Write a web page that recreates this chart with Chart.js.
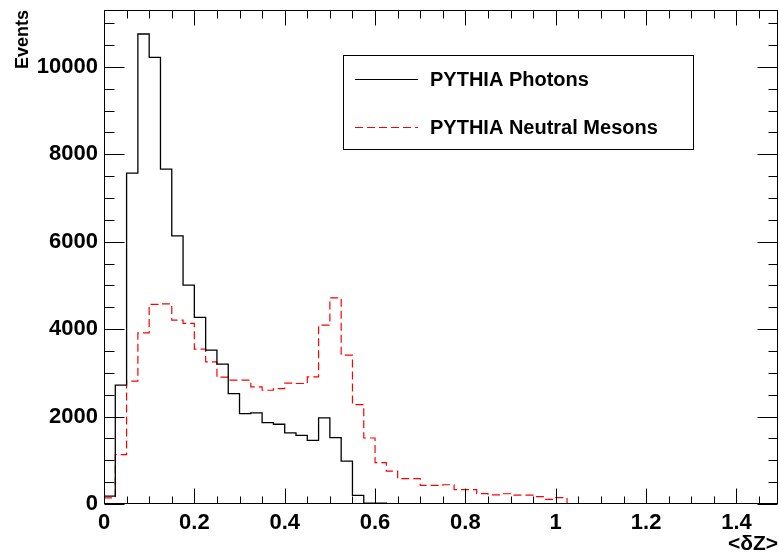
<!DOCTYPE html>
<html>
<head>
<meta charset="utf-8">
<script src="https://cdn.jsdelivr.net/npm/chart.js@4.4.0/dist/chart.umd.min.js"></script>
<style>
  html, body { margin: 0; padding: 0; background: #fff; }
  #wrap { width: 779px; height: 554px; }
</style>
</head>
<body>
<div id="wrap"><canvas id="hist"></canvas></div>
<script>
// bin low edges (width 0.025), last entry closes the final bin
const binEdges = [0, 0.025, 0.05, 0.075, 0.1, 0.125, 0.15, 0.175, 0.2, 0.225,
  0.25, 0.275, 0.3, 0.325, 0.35, 0.375, 0.4, 0.425, 0.45, 0.475,
  0.5, 0.525, 0.55, 0.575, 0.6, 0.625, 0.65, 0.675, 0.7, 0.725,
  0.75, 0.775, 0.8, 0.825, 0.85, 0.875, 0.9, 0.925, 0.95, 0.975,
  1.0, 1.025];

const photons = [180, 2717, 7567, 10751, 10215, 7659, 6131, 5008, 4268, 3519,
  3198, 2527, 2069, 2083, 1862, 1824, 1625, 1572, 1457, 1968,
  1519, 983, 197, 20, 20, 0, 0, 0, 0, 0,
  0, 0, 0, 0, 0, 0, 0, 0, 0, 0,
  0];

const mesons = [140, 1130, 2810, 3916, 4565, 4580, 4206, 4130, 3542, 3251,
  2900, 2832, 2832, 2678, 2602, 2641, 2765, 2756, 2907, 4092,
  4717, 3404, 2275, 1510, 946, 754, 579, 579, 426, 426,
  440, 327, 327, 236, 210, 235, 204, 204, 167, 105,
  144];

const seriesNames = ['PYTHIA Photons', 'PYTHIA Neutral Mesons'];
const xTicks = [0, 0.2, 0.4, 0.6, 0.8, 1, 1.2, 1.4];
const yTicks = [0, 2000, 4000, 6000, 8000, 10000];

// histogram outline: one point per bin low edge, then drop to zero
function toSteps(values) {
  const pts = values.map((v, i) => ({ x: binEdges[i], y: v }));
  pts.push({ x: binEdges[values.length], y: 0 });
  return pts;
}

const X_MINOR = 0.05, Y_MINOR = 500;

// ROOT style frame with ticks pointing inward on all four sides
const frameTicks = {
  id: 'frameTicks',
  afterDatasetsDraw(chart) {
    const { ctx, chartArea: a, scales: { x, y } } = chart;
    const L = Math.round(a.left) + 0.5, R = Math.round(a.right) - 0.5;
    const T = Math.round(a.top) + 0.5, B = Math.round(a.bottom) - 0.5;
    ctx.save();
    ctx.strokeStyle = '#000';
    ctx.lineWidth = 1;
    ctx.beginPath();
    for (let i = 0; i * X_MINOR <= x.max + 1e-9; i++) {
      const px = Math.round(x.getPixelForValue(i * X_MINOR)) + 0.5;
      const major = i % 4 === 0;
      ctx.moveTo(px, B); ctx.lineTo(px, B - (major ? 15 : 7));
      ctx.moveTo(px, T); ctx.lineTo(px, T + (major ? 15 : 8));
    }
    for (let i = 0; i * Y_MINOR <= y.max + 1e-9; i++) {
      const py = Math.round(y.getPixelForValue(i * Y_MINOR)) + 0.5;
      const major = i % 4 === 0;
      ctx.moveTo(L, py); ctx.lineTo(L + (major ? 20 : 10), py);
      ctx.moveTo(R, py); ctx.lineTo(R - (major ? 20 : 9), py);
    }
    ctx.stroke();
    ctx.strokeRect(L, T, R - L, B - T);
    ctx.restore();
  }
};

const boxLegend = {
  id: 'boxLegend',
  afterDraw(chart) {
    const ctx = chart.ctx;
    ctx.save();
    ctx.strokeStyle = '#000';
    ctx.lineWidth = 1;
    ctx.strokeRect(343.5, 55.5, 350, 94);
    ctx.font = 'bold 20px "Liberation Sans", Arial, sans-serif';
    ctx.textBaseline = 'middle';
    ctx.fillStyle = '#000';
    const rows = [79.5, 127.5];
    chart.data.datasets.forEach((ds, i) => {
      ctx.beginPath();
      ctx.strokeStyle = ds.borderColor;
      ctx.lineWidth = 1;
      ctx.setLineDash(ds.borderDash || []);
      ctx.moveTo(355, rows[i]);
      ctx.lineTo(418, rows[i]);
      ctx.stroke();
      ctx.setLineDash([]);
      ctx.fillText(ds.label, 430, rows[i] + 1);
    });
    ctx.restore();
  }
};

const tickFont = { family: '"Liberation Sans", Arial, sans-serif', size: 22, weight: 'bold' };

new Chart(document.getElementById('hist'), {
  type: 'line',
  data: {
    datasets: [{
      label: seriesNames[0],
      data: toSteps(photons),
      borderColor: '#000000',
      borderWidth: 1.3,
      stepped: 'before',
      pointRadius: 0,
      fill: false
    }, {
      label: seriesNames[1],
      data: toSteps(mesons),
      borderColor: '#ff0000',
      borderWidth: 1.2,
      borderDash: [8, 4],
      stepped: 'before',
      pointRadius: 0,
      fill: false
    }]
  },
  options: {
    responsive: true,
    maintainAspectRatio: false,
    animation: false,
    layout: { padding: { top: 10, right: 1, left: 0, bottom: 0 } },
    plugins: { legend: { display: false }, tooltip: { enabled: false } },
    scales: {
      x: {
        type: 'linear',
        min: 0,
        max: 1.492,
        grid: { display: false, drawTicks: false },
        border: { display: false },
        afterBuildTicks: s => { s.ticks = xTicks.map(v => ({ value: v })); },
        afterFit: s => { s.height = 50; s.paddingLeft = 0; s.paddingRight = 0; },
        ticks: {
          color: '#000', font: tickFont, padding: 6,
          maxRotation: 0, autoSkip: false,
          callback: v => String(v)
        },
        title: {
          display: true, text: '<δZ>', align: 'end', color: '#000',
          font: { family: '"Liberation Sans", Arial, sans-serif', size: 21, weight: 'bold' },
          padding: { top: 0, bottom: -3 }
        }
      },
      y: {
        min: 0,
        max: 11300,
        grid: { display: false, drawTicks: false },
        border: { display: false },
        afterBuildTicks: s => { s.ticks = yTicks.map(v => ({ value: v })); },
        afterFit: s => { s.width = 104; s.paddingTop = 0; s.paddingBottom = 0; },
        ticks: {
          color: '#000', font: tickFont, padding: 6,
          callback: v => String(v)
        },
        title: {
          display: true, text: 'Events', align: 'end', color: '#000',
          font: { family: '"Liberation Sans", Arial, sans-serif', size: 18, weight: 'bold' },
          padding: { top: 12, bottom: 0 }
        }
      }
    }
  },
  plugins: [frameTicks, boxLegend]
});
</script>
</body>
</html>
